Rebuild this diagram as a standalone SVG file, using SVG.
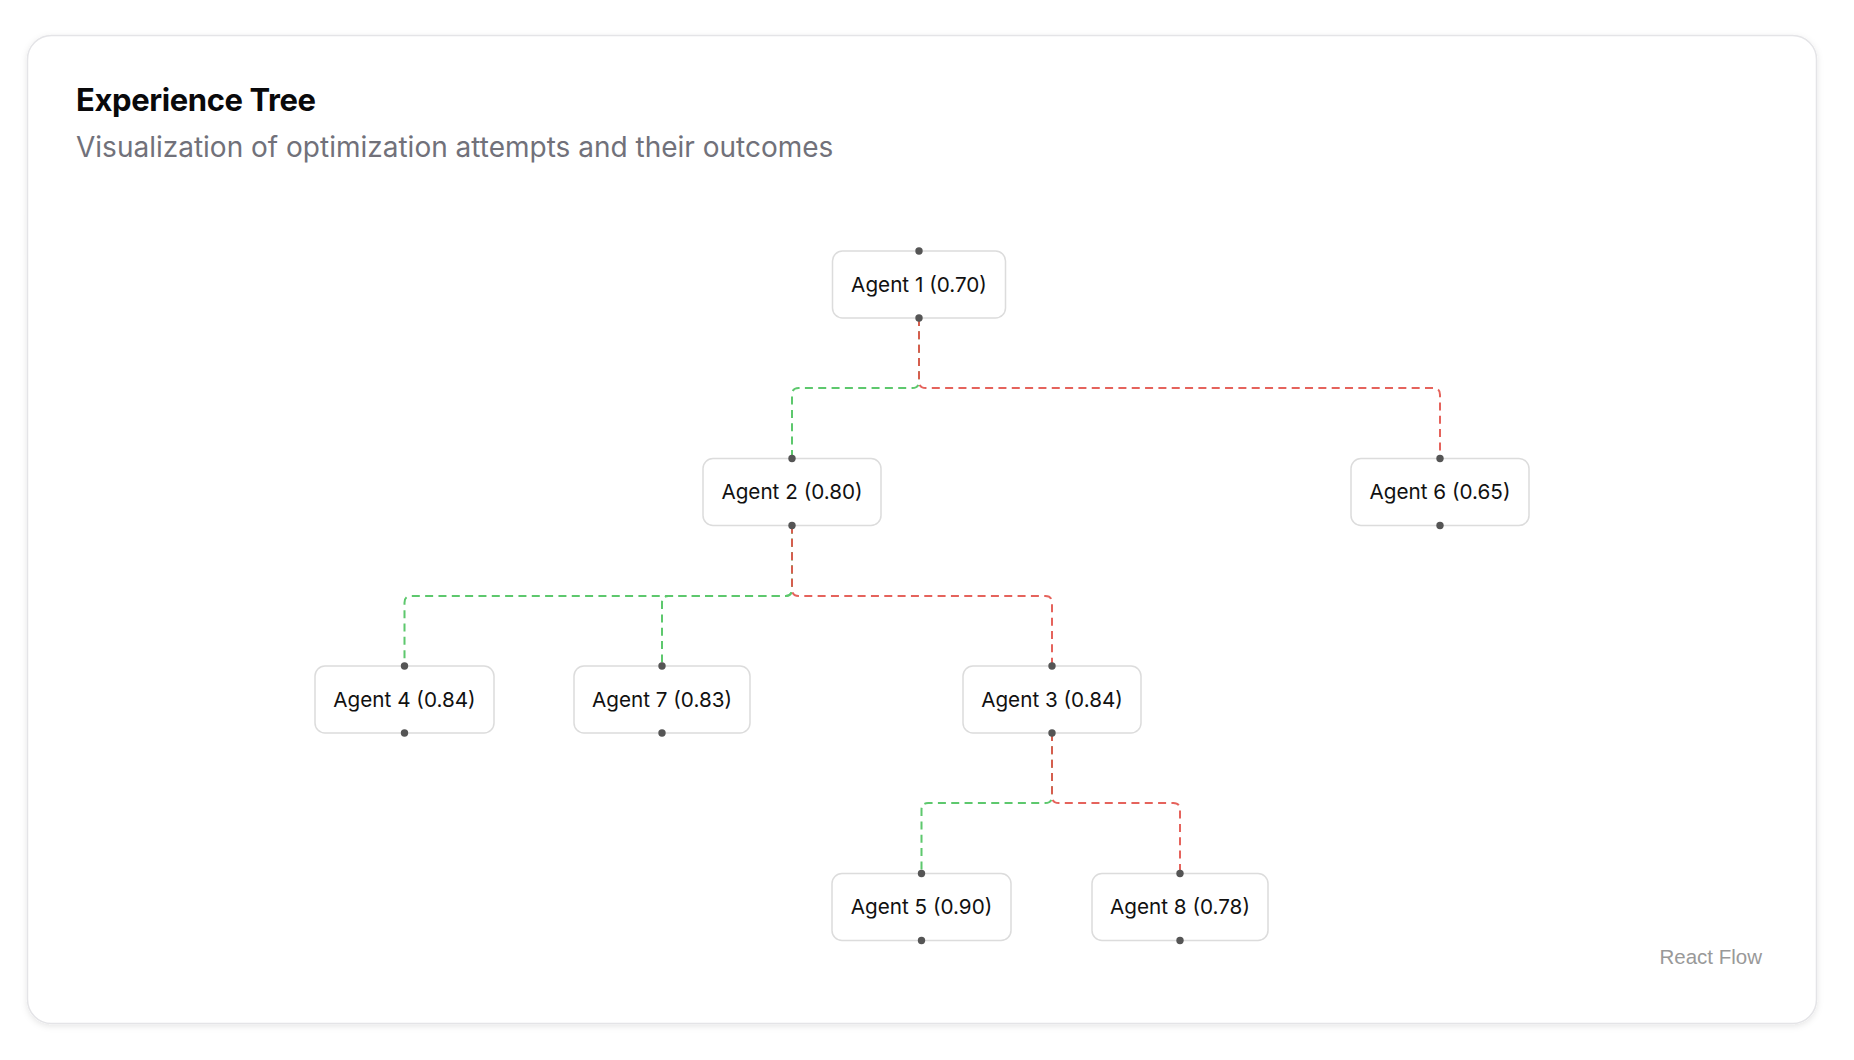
<svg xmlns="http://www.w3.org/2000/svg" width="1854" height="1060" viewBox="0 0 1854 1060">
<defs>
<filter id="shadow" x="-5%" y="-5%" width="110%" height="112%">
<feDropShadow dx="0" dy="2" stdDeviation="3" flood-color="#000" flood-opacity="0.10"/>
</filter>
<style>
.card{fill:#fff;stroke:#e4e4e7;stroke-width:1.5}
.title{font-family:Inter,"Noto Sans",sans-serif;font-weight:700;font-size:31px;fill:#09090b;letter-spacing:-0.4px}
.sub{font-family:Inter,"Noto Sans",sans-serif;font-size:28px;fill:#71717a}
.node rect{fill:#fff;stroke:#dcdcdc;stroke-width:1.5}
.node text{font-family:Inter,"Noto Sans",sans-serif;font-size:20.7px;fill:#111;text-anchor:middle}
.h{fill:#555}
.e{fill:none;stroke-width:2;stroke-dasharray:8 5.33}
.ok{stroke:#5dc86d}
.bad{stroke:#e2524a;opacity:0.9}
.attr{font-family:"Liberation Sans",Arial,sans-serif;font-size:20.5px;fill:#999;text-anchor:end}
</style>
</defs>
<rect x="0" y="0" width="1854" height="1060" fill="#fff"/>
<rect class="card" x="27.5" y="35.5" width="1789" height="988" rx="24" filter="url(#shadow)"/>
<text class="title" x="76" y="111">Experience Tree</text>
<text class="sub" x="76" y="157">Visualization of optimization attempts and their outcomes</text>

<g id="connectors">
<!-- Agent1 -> Agent2 (green) -->
<path class="e ok" d="M919 318 V381.3 Q919 388 912.3 388 H798.7 Q792 388 792 394.7 V458.5"/>
<!-- Agent2 -> Agent4 (green) -->
<path class="e ok" d="M792 525.5 V589.3 Q792 596 785.3 596 H411.2 Q404.5 596 404.5 602.7 V666"/>
<!-- Agent2 -> Agent7 (green) -->
<path class="e ok" d="M792 525.5 V589.3 Q792 596 785.3 596 H668.7 Q662 596 662 602.7 V666"/>
<!-- Agent3 -> Agent5 (green) -->
<path class="e ok" d="M1052 733 V796.3 Q1052 803 1045.3 803 H928.2 Q921.5 803 921.5 809.7 V873.5"/>
<!-- Agent1 -> Agent6 (red) -->
<path class="e bad" d="M919 318 V381.3 Q919 388 925.7 388 H1433.3 Q1440 388 1440 394.7 V458.5"/>
<!-- Agent2 -> Agent3 (red) -->
<path class="e bad" d="M792 525.5 V589.3 Q792 596 798.7 596 H1045.3 Q1052 596 1052 602.7 V666"/>
<!-- Agent3 -> Agent8 (red) -->
<path class="e bad" d="M1052 733 V796.3 Q1052 803 1058.7 803 H1173.3 Q1180 803 1180 809.7 V873.5"/>
</g>

<g id="agent1" class="node">
<rect x="832.5" y="251" width="173" height="67" rx="10"/>
<text x="919" y="291.5">Agent 1 (0.70)</text>
<circle class="h" cx="919" cy="251" r="3.7"/><circle class="h" cx="919" cy="318" r="3.7"/>
</g>
<g id="agent2" class="node">
<rect x="703" y="458.5" width="178" height="67" rx="10"/>
<text x="792" y="499">Agent 2 (0.80)</text>
<circle class="h" cx="792" cy="458.5" r="3.7"/><circle class="h" cx="792" cy="525.5" r="3.7"/>
</g>
<g id="agent6" class="node">
<rect x="1351" y="458.5" width="178" height="67" rx="10"/>
<text x="1440" y="499">Agent 6 (0.65)</text>
<circle class="h" cx="1440" cy="458.5" r="3.7"/><circle class="h" cx="1440" cy="525.5" r="3.7"/>
</g>
<g id="agent4" class="node">
<rect x="315" y="666" width="179" height="67" rx="10"/>
<text x="404.5" y="706.5">Agent 4 (0.84)</text>
<circle class="h" cx="404.5" cy="666" r="3.7"/><circle class="h" cx="404.5" cy="733" r="3.7"/>
</g>
<g id="agent7" class="node">
<rect x="574" y="666" width="176" height="67" rx="10"/>
<text x="662" y="706.5">Agent 7 (0.83)</text>
<circle class="h" cx="662" cy="666" r="3.7"/><circle class="h" cx="662" cy="733" r="3.7"/>
</g>
<g id="agent3" class="node">
<rect x="963" y="666" width="178" height="67" rx="10"/>
<text x="1052" y="706.5">Agent 3 (0.84)</text>
<circle class="h" cx="1052" cy="666" r="3.7"/><circle class="h" cx="1052" cy="733" r="3.7"/>
</g>
<g id="agent5" class="node">
<rect x="832" y="873.5" width="179" height="67" rx="10"/>
<text x="921.5" y="914">Agent 5 (0.90)</text>
<circle class="h" cx="921.5" cy="873.5" r="3.7"/><circle class="h" cx="921.5" cy="940.5" r="3.7"/>
</g>
<g id="agent8" class="node">
<rect x="1092" y="873.5" width="176" height="67" rx="10"/>
<text x="1180" y="914">Agent 8 (0.78)</text>
<circle class="h" cx="1180" cy="873.5" r="3.7"/><circle class="h" cx="1180" cy="940.5" r="3.7"/>
</g>

<text class="attr" x="1762" y="964">React Flow</text>
</svg>
